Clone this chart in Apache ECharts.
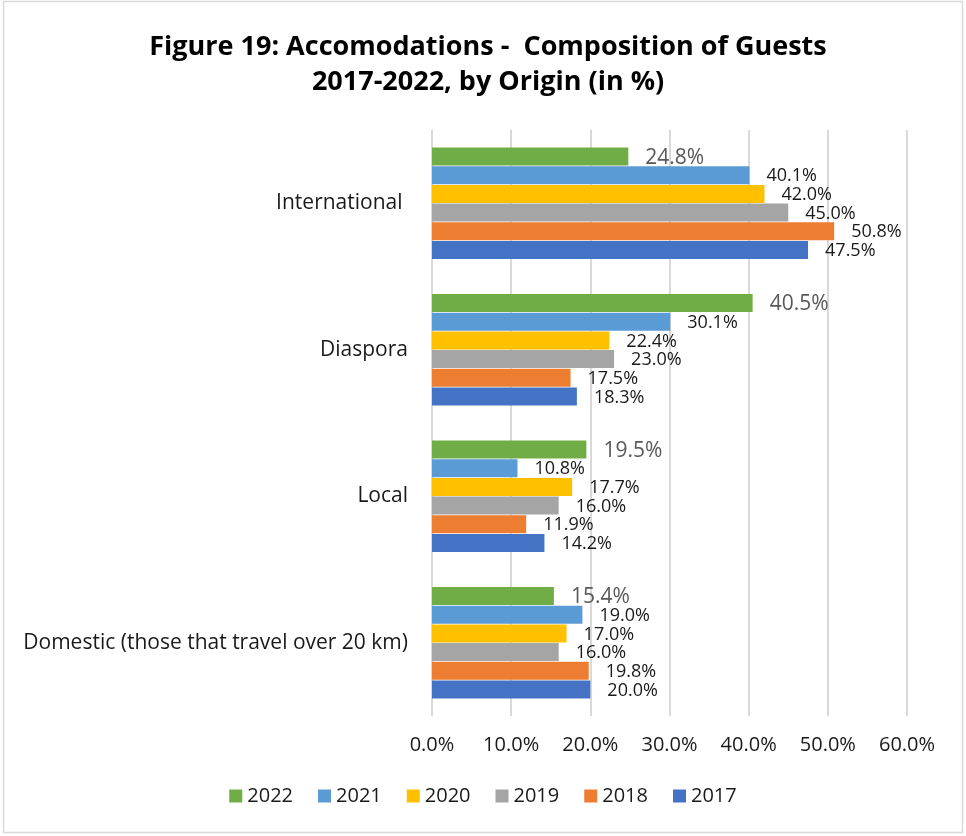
<!DOCTYPE html>
<html>
<head>
<meta charset="utf-8">
<script src="https://cdn.jsdelivr.net/npm/echarts@6/dist/echarts.min.js"></script>
<style>
  html, body { margin: 0; padding: 0; background: #fff; }
  #chart { width: 966px; height: 836px; }
</style>
</head>
<body>
<div id="chart"></div>
<script>
// Guest origin groups, listed top to bottom
const categories = ['International ', 'Diaspora', 'Local', 'Domestic (those that travel over 20 km)'];
const years = ['2022', '2021', '2020', '2019', '2018', '2017'];
const colors = ['#70AD47', '#5B9BD5', '#FFC000', '#A5A5A5', '#ED7D31', '#4472C4'];

// Share of guests (%) per year, in category order
const v2022 = [24.8, 40.5, 19.5, 15.4];
const v2021 = [40.1, 30.1, 10.8, 19.0];
const v2020 = [42.0, 22.4, 17.7, 17.0];
const v2019 = [45.0, 23.0, 16.0, 16.0];
const v2018 = [50.8, 17.5, 11.9, 19.8];
const v2017 = [47.5, 18.3, 14.2, 20.0];
const seriesValues = [v2022, v2021, v2020, v2019, v2018, v2017];

const xTicks = [0, 10, 20, 30, 40, 50, 60];

const FONT = '"Open Sans", sans-serif';

const chart = echarts.init(document.getElementById('chart'), null, { renderer: 'canvas' });

const series = years.map((y, i) => ({
  name: y,
  type: 'bar',
  data: seriesValues[i],
  barGap: '4%',
  barCategoryGap: '24%',
  itemStyle: { color: colors[i] },
  label: {
    show: true,
    position: 'right',
    distance: 17,
    formatter: p => p.value.toFixed(1) + '%',
    fontFamily: FONT,
    fontSize: i === 0 ? 21 : 18,
    color: i === 0 ? '#595959' : '#1a1a1a',
    offset: [0, 1]
  }
}));

chart.setOption({
  animation: false,
  backgroundColor: '#ffffff',
  title: {
    text: 'Figure 19: Accomodations -  Composition of Guests\n2017-2022, by Origin (in %)',
    left: 483,
    textAlign: 'center',
    top: 25,
    textStyle: {
      fontFamily: FONT,
      fontWeight: 'bold',
      fontSize: 27,
      lineHeight: 35,
      color: '#000000'
    }
  },
  legend: {
    data: years,
    bottom: 25,
    left: 'center',
    itemWidth: 13,
    itemHeight: 13,
    itemGap: 25,
    icon: 'rect',
    textStyle: { fontFamily: FONT, fontSize: 20, color: '#1a1a1a', padding: [0, 0, 0, 0] }
  },
  grid: { left: 432, right: 59, top: 130, bottom: 120, containLabel: false },
  xAxis: {
    type: 'value',
    min: xTicks[0],
    max: xTicks[xTicks.length - 1],
    interval: 10,
    axisLine: { show: false },
    axisTick: { show: false },
    splitLine: { show: true, lineStyle: { color: '#D9D9D9', width: 2 } },
    axisLabel: {
      margin: 19,
      fontFamily: FONT,
      fontSize: 20,
      color: '#1a1a1a',
      formatter: v => v.toFixed(1) + '%'
    }
  },
  yAxis: {
    type: 'category',
    data: categories,
    inverse: true,
    axisLine: { show: true, lineStyle: { color: '#D9D9D9', width: 1 } },
    axisTick: { show: false },
    axisLabel: {
      margin: 24,
      fontFamily: FONT,
      fontSize: 21,
      color: '#1a1a1a'
    }
  },
  graphic: [{
    type: 'rect',
    shape: { x: 3.5, y: 1.5, width: 959, height: 831 },
    style: { fill: 'none', stroke: '#D9D9D9', lineWidth: 1.5 },
    silent: true
  }],
  series: series
});
</script>
</body>
</html>
